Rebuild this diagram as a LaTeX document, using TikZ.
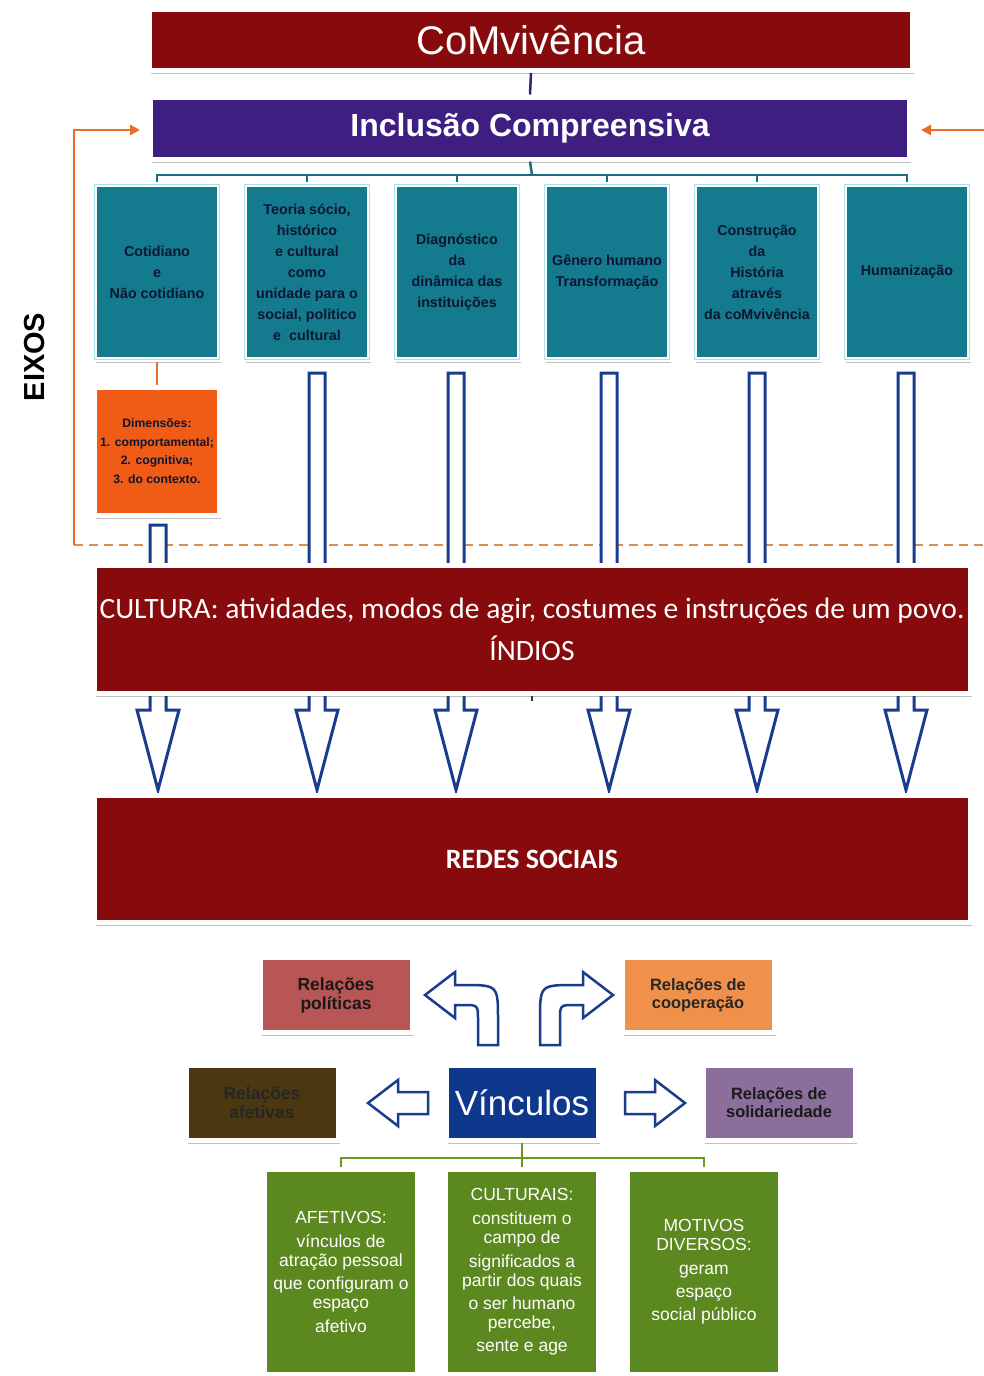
\documentclass[tikz,border=0pt]{standalone}
\usepackage{fontspec}
\setmainfont{Liberation Sans}
\newfontfamily\calib{Carlito}
\usetikzlibrary{shadows,arrows.meta}
\definecolor{darkred}{RGB}{135,10,12}
\definecolor{incpurple}{RGB}{62,30,128}
\definecolor{tealfill}{RGB}{20,122,142}
\definecolor{tealtext}{RGB}{12,22,50}
\definecolor{tealline}{RGB}{25,110,130}
\definecolor{dimorange}{RGB}{240,92,22}
\definecolor{fborange}{RGB}{232,110,40}
\definecolor{dashorange}{RGB}{212,145,80}
\definecolor{arrowblue}{RGB}{25,60,140}
\definecolor{polred}{RGB}{184,86,86}
\definecolor{cooporange}{RGB}{240,145,75}
\definecolor{afetbrown}{RGB}{75,56,16}
\definecolor{vinblue}{RGB}{14,56,140}
\definecolor{solpurple}{RGB}{140,110,156}
\definecolor{greenfill}{RGB}{92,136,32}
\definecolor{greenline}{RGB}{104,152,34}
\definecolor{topline}{RGB}{55,35,105}
\definecolor{rimcyan}{RGB}{170,225,235}
\tikzset{
  card/.style={draw=white, line width=5pt, inner sep=0pt, align=center,
    drop shadow={shadow xshift=1.5pt, shadow yshift=-3.5pt, opacity=0.35, fill=black!70}},
  tealbox/.style={card, fill=tealfill, minimum width=125pt, minimum height=175pt,
    text=tealtext, font=\bfseries\fontsize{14.3}{21}\selectfont},
  smallbox/.style={card, minimum width=152pt, minimum height=75pt,
    font=\bfseries\fontsize{17.5}{19}\selectfont},
  greenbox/.style={card, fill=greenfill, minimum width=153pt, minimum height=205pt,
    text=white, font=\fontsize{17.5}{19}\selectfont},
  blockarrow/.style={draw=arrowblue, line width=3pt, fill=white, line join=miter},
  bracket/.style={line width=2.5pt},
}
\newcommand\blkdown[2]{%
  \draw[blockarrow] (#1-8,#2) -- (#1+8,#2) -- (#1+8,710) -- (#1+21,710) -- (#1,790)
    -- (#1-21,710) -- (#1-8,710) -- cycle;}
\begin{document}
\begin{tikzpicture}[x=1pt,y=-1pt]
\useasboundingbox (0,0) rectangle (984,1376);
\fill[white] (0,0) rectangle (984,1376);

% top boxes
\node[card, fill=darkred, minimum width=763pt, minimum height=61pt, text=white,
  font=\fontsize{40}{40}\selectfont] (com) at (531,40) {CoMvivência};
\node[card, fill=incpurple, minimum width=759pt, minimum height=62pt, text=white,
  font=\bfseries\fontsize{32}{32}\selectfont] (inc) at (530,128) {Inclusão Compreensiva};
\draw[line width=2.5pt, topline] (com.south) -- (inc.north);

% EIXOS
\node[rotate=90, font=\bfseries\fontsize{29}{29}\selectfont] (eixos) at (35,357) {EIXOS};

% teal boxes
\node[tealbox] (b1) at (157,272) {Cotidiano\\e\\Não cotidiano};
\node[tealbox] (b2) at (307,272) {Teoria sócio,\\histórico\\e cultural\\como\\unidade para o\\social, politico\\e\ \ cultural};
\node[tealbox] (b3) at (457,272) {Diagnóstico\\da\\dinâmica das\\instituições};
\node[tealbox] (b4) at (607,272) {Gênero humano\\Transformação};
\node[tealbox] (b5) at (757,272) {Construção\\da\\História\\através\\da coMvivência};
\node[tealbox] (b6) at (907,272) {Humanização};
\foreach \b in {b1,b2,b3,b4,b5,b6}
  \draw[rimcyan, line width=1pt] ([shift={(2.5pt,2.5pt)}]\b.south west) rectangle ([shift={(-2.5pt,-2.5pt)}]\b.north east);

% bracket
\coordinate (bus) at (532,175);
\draw[bracket, tealline] (b1.north) |- (bus) -| (b6.north);
\draw[bracket, tealline] (inc.south) -- (bus);
\foreach \b in {b2,b3,b4,b5} \draw[bracket, tealline] (\b.north |- bus) -- (\b.north);

% dimensoes
\node[card, fill=dimorange, minimum width=125pt, minimum height=128pt, text=tealtext,
  font=\bfseries\fontsize{12.2}{18.5}\selectfont] (dim) at (157,451)
  {Dimensões:\\1. comportamental;\\2. cognitiva;\\3. do contexto.};
\draw[bracket, fborange] (b1.south) -- (dim.north);

% feedback orange arrows
\coordinate (fbL) at (74,545);
\coordinate (fbR) at (984,545);
\coordinate (fbRin) at (984,130);
\draw[dashed, dashorange, line width=2pt, dash pattern=on 9pt off 6pt] (fbL) -- (fbR);
\draw[fborange, line width=2.5pt, -{Triangle[length=10pt,width=10pt]}]
  (fbL) |- ([xshift=-8pt,yshift=-2pt]inc.west);
\draw[fborange, line width=2.5pt, -{Triangle[length=10pt,width=10pt]}]
  (fbRin) -- ([xshift=9pt,yshift=-2pt]inc.east);

% blue open arrows (behind cultura)
\blkdown{158}{525}
\blkdown{317}{373}
\blkdown{456}{373}
\blkdown{609}{373}
\blkdown{757}{373}
\blkdown{906}{373}

% cultura
\node[card, fill=darkred, minimum width=876pt, minimum height=128pt, text=white,
  font=\calib\fontsize{29.5}{42}\selectfont] (cult) at (532,629)
  {CULTURA: atividades, modos de agir, costumes e instruções de um povo.\\ÍNDIOS};
\draw[line width=2pt, black!80] (cult.south) -- ++(0,5);

% redes
\node[card, fill=darkred, minimum width=876pt, minimum height=127pt, text=white,
  font=\calib\bfseries\fontsize{28}{28}\selectfont] (redes) at (532,859) {REDES SOCIAIS};

% relacoes
\node[smallbox, fill=polred, text=black!90] (pol) at (336,995) {Relações\\políticas};
\node[smallbox, fill=cooporange, text=black!85, font=\bfseries\fontsize{16.4}{18}\selectfont] (coop) at (698,995) {Relações de\\cooperação};
\node[smallbox, fill=afetbrown, text=black!85] (afet) at (262,1103) {Relações\\afetivas};
\node[smallbox, fill=vinblue, text=white, font=\fontsize{35}{35}\selectfont] (vin) at (522,1103) {Vínculos};
\node[smallbox, fill=solpurple, text=black!90, font=\bfseries\fontsize{16.4}{18}\selectfont] (sol) at (779,1103) {Relações de\\solidariedade};

% curved open arrows
\draw[blockarrow, line width=2.5pt] (478,1045) -- (478,1020) .. controls (478,1005) .. (463,1005)
  -- (455,1005) -- (455,1018) -- (425,995) -- (455,972) -- (455,985) -- (463,985)
  .. controls (498,985) .. (498,1020) -- (498,1045) -- cycle;
\draw[blockarrow, line width=2.5pt] (560,1045) -- (560,1020) .. controls (560,1005) .. (575,1005)
  -- (583,1005) -- (583,1018) -- (613,995) -- (583,972) -- (583,985) -- (575,985)
  .. controls (540,985) .. (540,1020) -- (540,1045) -- cycle;
% horizontal open arrows
\draw[blockarrow, line width=2.5pt] (428,1092) -- (398,1092) -- (398,1080) -- (368,1103)
  -- (398,1126) -- (398,1114) -- (428,1114) -- cycle;
\draw[blockarrow, line width=2.5pt] (625,1092) -- (655,1092) -- (655,1080) -- (685,1103)
  -- (655,1126) -- (655,1114) -- (625,1114) -- cycle;

% green boxes
\node[greenbox] (g1) at (341,1272) {AFETIVOS:\\[5pt]vínculos de\\atração pessoal\\[4pt]que configuram o\\espaço\\[5pt]afetivo};
\node[greenbox] (g2) at (522,1272) {CULTURAIS:\\[5pt]constituem o\\campo de\\[5pt]significados a\\partir dos quais\\[4pt]o ser humano\\percebe,\\[4pt]sente e age};
\node[greenbox] (g3) at (704,1272) {MOTIVOS\\DIVERSOS:\\[5pt]geram\\[4pt]espaço\\[4pt]social público};

\coordinate (gbus) at (522,1158);
\draw[bracket, greenline] (g1.north) |- (gbus) -| (g3.north);
\draw[bracket, greenline] (vin.south) -- (g2.north);
\end{tikzpicture}
\end{document}
